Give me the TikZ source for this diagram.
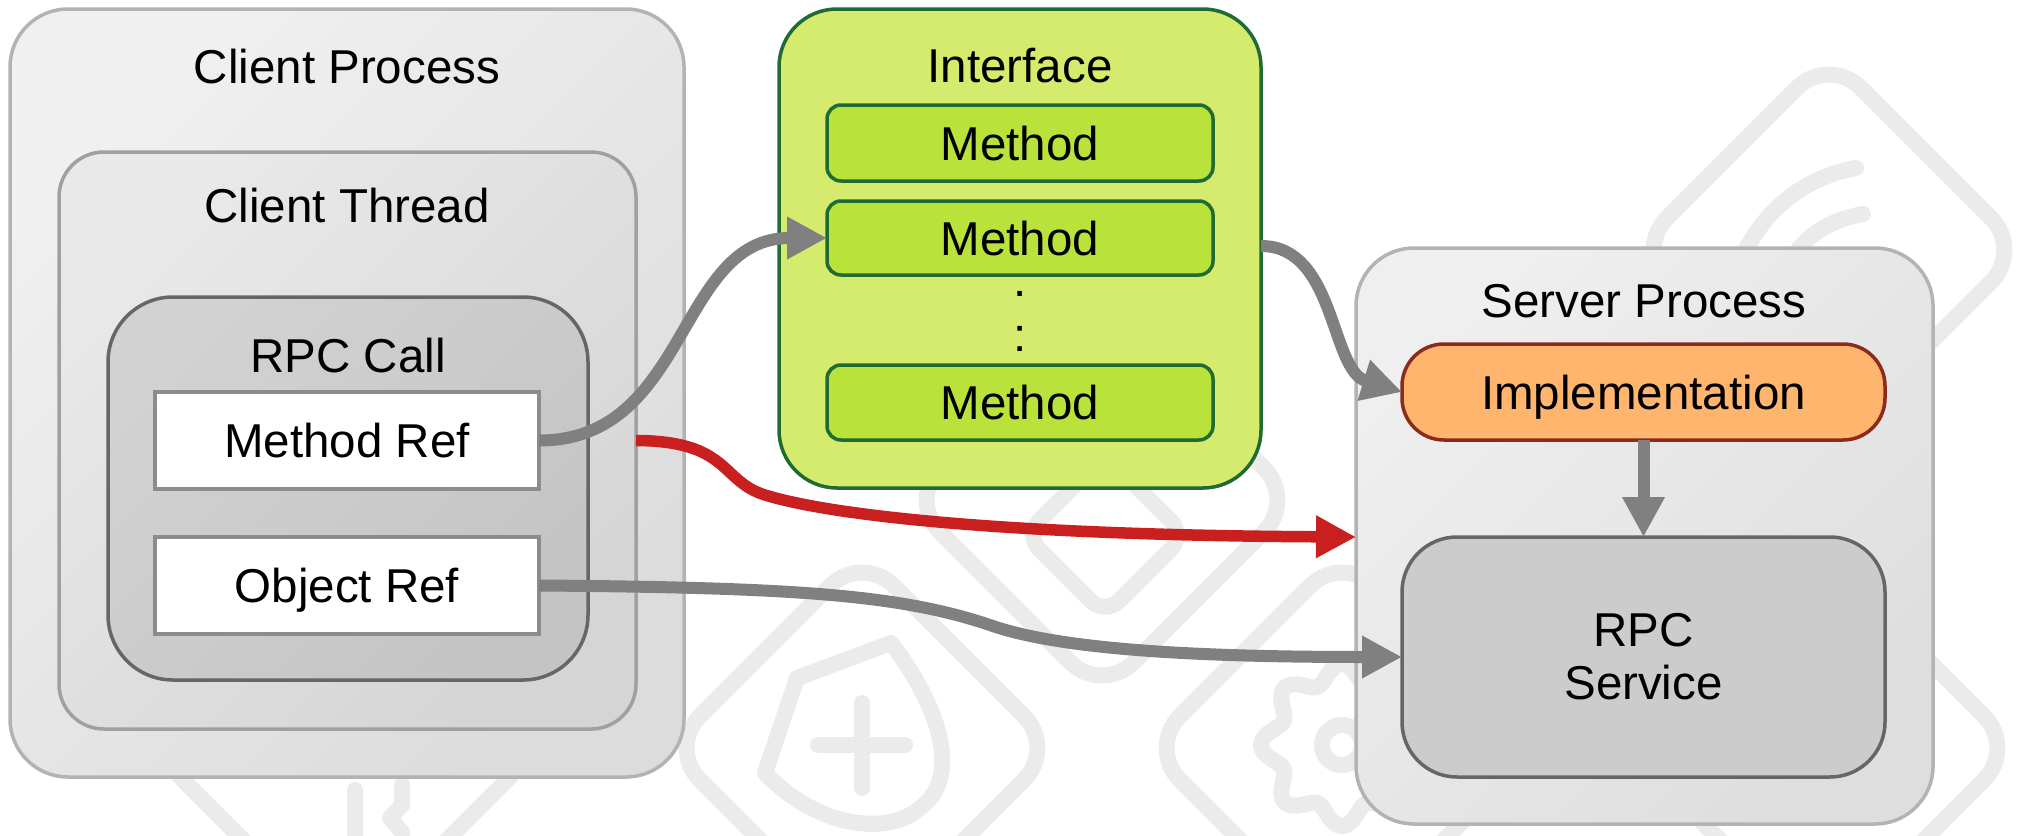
\documentclass[tikz,border=0pt]{standalone}
\usepackage{fontspec}
\setmainfont{Liberation Sans}
\usetikzlibrary{arrows.meta,calc}
\definecolor{wmc}{HTML}{EBEBEB}
\definecolor{cpA}{HTML}{F0F0F0}
\definecolor{cpB}{HTML}{DCDCDC}
\definecolor{cpDraw}{HTML}{B3B3B3}
\definecolor{ctA}{HTML}{E9E9E9}
\definecolor{ctB}{HTML}{D5D5D5}
\definecolor{ctDraw}{HTML}{A0A0A0}
\definecolor{rcA}{HTML}{D2D2D2}
\definecolor{rcB}{HTML}{C4C4C4}
\definecolor{rcDraw}{HTML}{666666}
\definecolor{refDraw}{HTML}{8C8C8C}
\definecolor{ifFill}{HTML}{D4EB6D}
\definecolor{ifDraw}{HTML}{1F6B33}
\definecolor{mFill}{HTML}{B9E33A}
\definecolor{impFill}{HTML}{FFB56E}
\definecolor{impDraw}{HTML}{8A2B1B}
\definecolor{spA}{HTML}{EFEFEF}
\definecolor{spB}{HTML}{DEDEDE}
\definecolor{rsFill}{HTML}{CCCCCC}
\definecolor{arrg}{HTML}{808080}
\definecolor{arrr}{HTML}{C9201F}
\begin{document}
\begin{tikzpicture}[x=1pt,y=-1pt,
  font=\fontsize{47.5}{53}\selectfont,
  every node/.style={inner sep=0pt, outer sep=0pt},
  wm/.style={draw=wmc, line width=16pt, line cap=round, line join=round},
  cont/.style={draw, rectangle, line width=3.5pt},
  lbl/.style={anchor=base},
  inbox/.style={draw, rectangle, line width=3.5pt, text height=34pt, text depth=0pt},
  garrow/.style={draw=arrg, line width=12pt, -{Triangle[length=40pt,width=40pt]}},
  rarrow/.style={draw=arrr, line width=11.5pt, -{Triangle[length=40pt,width=40pt]}},
]
\useasboundingbox (0,0) rectangle (2023,835);
\fill[white] (0,0) rectangle (2023,835);

% ---------- faint background watermark ----------
\begin{scope}
\clip (0,0) rectangle (2023,835);
\foreach \cx/\cy in {345/748, 862/748, 1342/748, 1822/748, 1102/500, 1829/250}
  \draw[wm, rounded corners=45pt] ({\cx+97},{\cy-97}) -- ({\cx+194},\cy) -- (\cx,{\cy+194}) -- ({\cx-194},\cy) -- (\cx,{\cy-194}) -- cycle;
% small inner diamond
\draw[wm, rounded corners=20pt] (1145,495) -- (1185,535) -- (1105,615) -- (1025,535) -- (1105,455) -- cycle;
% wifi arcs
\draw[wm] (1856,168) .. controls (1800,178) and (1760,215) .. (1740,262);
\draw[wm] (1863,214) .. controls (1830,220) and (1805,235) .. (1790,262);
% shield with plus
\draw[wm] (797,678) -- (891,643) .. controls (935,700) and (965,775) .. (920,808) .. controls (890,835) and (820,830) .. (765,773) -- cycle;
\draw[wm] (862,703) -- (862,788);
\draw[wm] (818,745) -- (905,745);
% gear
\draw[wm] plot[domain=0:360, samples=121, smooth] ({1342+(72+9*cos(8*\x))*cos(\x)}, {745+(72+9*cos(8*\x))*sin(\x)});
\draw[wm] (1342,745) circle[radius=20];
% key
\draw[wm] (355,790) -- (355,840);
\draw[wm] (402,785) -- (402,805) -- (390,818) -- (402,832) -- (402,840);
\end{scope}

% ---------- client side ----------
\node[cont, draw=cpDraw, top color=cpA, bottom color=cpB, shading angle=45,
  rounded corners=58pt, minimum width=674pt, minimum height=768pt] (cproc) at (347,393) {};
\node[lbl] (tcproc) at (347,83) {Client Process};
\node[cont, draw=ctDraw, top color=ctA, bottom color=ctB, shading angle=45,
  rounded corners=45pt, minimum width=577pt, minimum height=577pt] (cthread) at (347.5,440.5) {};
\node[lbl] (tcthread) at (347,222) {Client Thread};
\node[cont, draw=rcDraw, top color=rcA, bottom color=rcB, shading angle=45,
  rounded corners=65pt, minimum width=480pt, minimum height=383pt] (rpccall) at (348,488.5) {};
\node[lbl] (trpccall) at (348,372) {RPC Call};
\node[inbox, draw=refDraw, fill=white, minimum width=384pt, minimum height=97pt] (mref) at (347,440.5) {Method Ref};
\node[inbox, draw=refDraw, fill=white, minimum width=384pt, minimum height=97pt] (oref) at (347,585.5) {Object Ref};

% ---------- interface ----------
\node[cont, draw=ifDraw, fill=ifFill, rounded corners=58pt, minimum width=482pt, minimum height=479pt] (iface) at (1020,248.5) {};
\node[lbl] (tiface) at (1020,82) {Interface};
\node[inbox, draw=ifDraw, fill=mFill, rounded corners=14pt, minimum width=386pt, minimum height=76pt] (m1) at (1020,143) {Method};
\node[inbox, draw=ifDraw, fill=mFill, rounded corners=14pt, minimum width=386pt, minimum height=74pt] (m2) at (1020,238) {Method};
\node[inbox, draw=ifDraw, fill=mFill, rounded corners=14pt, minimum width=386pt, minimum height=75pt] (m3) at (1020,402.5) {Method};
\node[lbl] (dot1) at (1020,296) {.};
\node[lbl] (dot2) at (1020,351) {:};

% ---------- server side ----------
\node[cont, draw=cpDraw, top color=spA, bottom color=spB, shading angle=45,
  rounded corners=58pt, minimum width=577pt, minimum height=576pt] (sproc) at (1644.5,536) {};
\node[lbl] (tsproc) at (1644,317) {Server Process};
\node[inbox, draw=impDraw, fill=impFill, rounded corners=42pt, minimum width=483pt, minimum height=96pt] (impl) at (1643.5,392) {Implementation};
\node[cont, draw=rcDraw, fill=rsFill, rounded corners=55pt, minimum width=483pt, minimum height=240pt, align=center] (rpcs) at (1643.5,657) {RPC\\Service};

% ---------- connectors ----------
\coordinate (a2s) at ($(iface.east |- m2.east)+(0,8)$);
\coordinate (rmid) at (765,495);
\coordinate (omid) at (990,625);

\draw[garrow] (mref.east) .. controls +(150,0) and +(-150,0) .. (m2.west);
\draw[garrow] (a2s) .. controls +(75,0) and +(-72,-22) .. (impl.west);
\draw[rarrow] (cthread.east |- mref.east) .. controls (730,441) and (720,481) .. (rmid)
   .. controls (830,515) and (1000,535) .. (sproc.west |- rpcs.north);
\draw[garrow] (oref.east) .. controls +(260,2) and (900,595) .. (omid)
   .. controls (1060,650) and (1200,657) .. (rpcs.west);
\draw[garrow] (impl.south) -- (rpcs.north);
\end{tikzpicture}
\end{document}
